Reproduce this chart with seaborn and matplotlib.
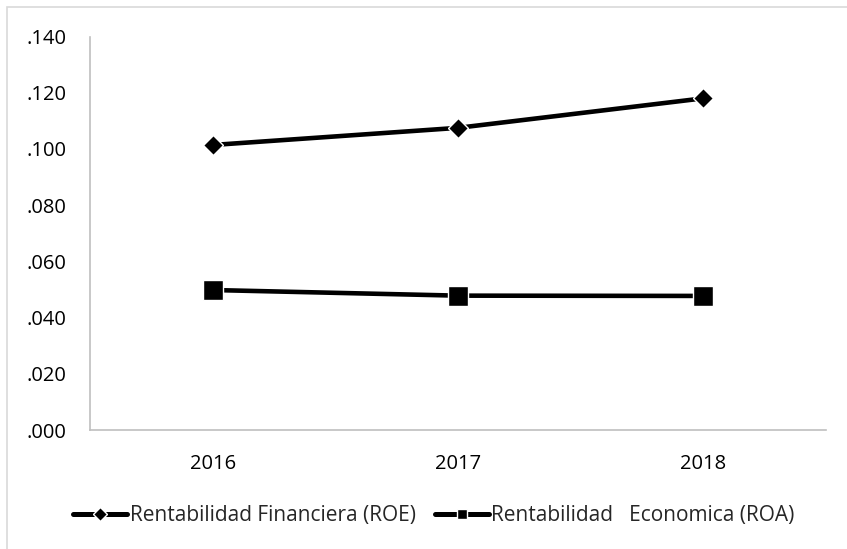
import matplotlib
matplotlib.use("Agg")
import matplotlib.pyplot as plt
import seaborn as sns
import pandas as pd
from matplotlib.patches import Rectangle

years = ["2016", "2017", "2018"]
roe = [0.1014, 0.1075, 0.1180]
roa = [0.0498, 0.0478, 0.0477]
label_roe = "Rentabilidad Financiera (ROE)"
label_roa = "Rentabilidad   Economica (ROA)"
yticks = [0.0, 0.02, 0.04, 0.06, 0.08, 0.10, 0.12, 0.14]

sns.set_style("white")
plt.rcParams["font.family"] = ["Open Sans", "DejaVu Sans"]

df_roe = pd.DataFrame({"year": years, "value": roe})
df_roa = pd.DataFrame({"year": years, "value": roa})

fig = plt.figure(figsize=(8.47, 5.49), dpi=100)
ax = fig.add_axes([90 / 847, 1 - 430 / 549, (826 - 90) / 847, (430 - 36.5) / 549])

sns.lineplot(data=df_roe, x="year", y="value", ax=ax, color="black", lw=3.3,
             marker="D", markersize=9.8, markeredgewidth=1, label=label_roe)
sns.lineplot(data=df_roa, x="year", y="value", ax=ax, color="black", lw=3.3,
             marker="s", markersize=14, markeredgewidth=1, label=label_roa)

ax.set_xlim(-0.5, len(years) - 0.5)
ax.set_ylim(0, 0.14)
ax.set_yticks(yticks)
ax.set_yticklabels([f"{v:.3f}".lstrip("0") for v in yticks])
ax.set_xlabel("")
ax.set_ylabel("")
ax.tick_params(axis="y", length=0, pad=17, labelsize=14.5, colors="black")
ax.tick_params(axis="x", length=0, pad=17, labelsize=14.5, colors="black")
for s in ["top", "right"]:
    ax.spines[s].set_visible(False)
for s in ["left", "bottom"]:
    ax.spines[s].set_color("#bfbfbf")
    ax.spines[s].set_linewidth(1.2)
ax.grid(False)

handles, labels = ax.get_legend_handles_labels()
leg = ax.legend(handles, labels, loc="center", bbox_to_anchor=(434 / 847, 1 - 516 / 549),
                bbox_transform=fig.transFigure, ncol=2, frameon=False, fontsize=15,
                handlelength=2.6, handletextpad=0.12, columnspacing=0.9)
leg_sizes = [7.2, 7.8]
for h, ms in zip(leg.legend_handles, leg_sizes):
    h.set_markersize(ms)
    h.set_linewidth(3.6)

fig.patches.append(Rectangle((7 / 847, -0.1), 1.2, 1 - 7 / 549 + 0.1, transform=fig.transFigure,
                             fill=False, edgecolor="#d9d9d9", lw=1.2, zorder=0))

fig.savefig("out.png", dpi=100)
